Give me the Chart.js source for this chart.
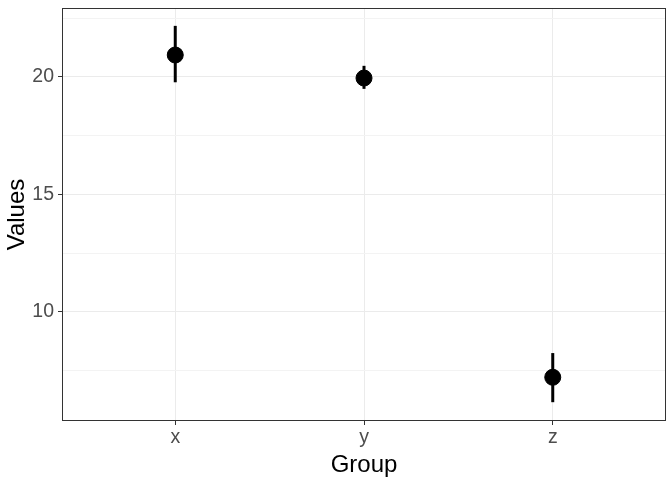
<!DOCTYPE html>
<html>
<head>
<meta charset="utf-8">
<script src="https://cdn.jsdelivr.net/npm/chart.js@4.4.1/dist/chart.umd.min.js"></script>
<style>
  html, body { margin: 0; padding: 0; background: #fff; }
  #wrap { width: 672px; height: 480px; }
</style>
</head>
<body>
<div id="wrap"><canvas id="chart" width="672" height="480"></canvas></div>
<script>
// data
const groups = ['x', 'y', 'z'];
const means = [20.93, 19.95, 7.22];
const lower = [19.77, 19.49, 6.16];
const upper = [22.17, 20.47, 8.25];

const yMin = 5.36, yMax = 22.93;

const errorSets = groups.map((g, i) => ({
  type: 'line',
  data: [{ x: i + 1, y: lower[i] }, { x: i + 1, y: upper[i] }],
  borderColor: '#000',
  borderWidth: 3,
  pointRadius: 0,
  borderCapStyle: 'butt',
  order: 2
}));

const pointSet = {
  type: 'scatter',
  data: groups.map((g, i) => ({ x: i + 1, y: means[i] })),
  backgroundColor: '#000',
  borderColor: '#000',
  pointRadius: 8,
  pointHoverRadius: 8,
  order: 1
};

// panel border all round, like theme_bw
const panelBorder = {
  id: 'panelBorder',
  afterDraw(chart) {
    const a = chart.chartArea, c = chart.ctx;
    c.save();
    c.strokeStyle = '#333333';
    c.lineWidth = 1;
    c.strokeRect(a.left + 0.5, a.top + 0.5, a.right - a.left - 1, a.bottom - a.top - 1);
    c.restore();
  }
};

const isMajor = v => Math.abs(v / 5 - Math.round(v / 5)) < 1e-6;
const font = 'Liberation Sans, Arial';

new Chart(document.getElementById('chart'), {
  type: 'scatter',
  data: { datasets: [...errorSets, pointSet] },
  options: {
    responsive: false,
    animation: false,
    layout: { autoPadding: false, padding: { top: 8, right: 6, left: 0, bottom: 0 } },
    plugins: { legend: { display: false }, tooltip: { enabled: false } },
    scales: {
      x: {
        type: 'linear',
        min: 0.4,
        max: 3.6,
        afterBuildTicks: s => { s.ticks = groups.map((g, i) => ({ value: i + 1 })); },
        afterFit: s => { s.height = 59; s.paddingLeft = 0; s.paddingRight = 0; },
        ticks: {
          callback: v => groups[v - 1],
          color: '#4D4D4D',
          font: { family: font, size: 19.5 },
          padding: 1,
          maxRotation: 0
        },
        grid: { color: '#EBEBEB', tickColor: '#333333', tickLength: 4, lineWidth: 1 },
        border: { display: false },
        title: {
          display: true,
          text: 'Group',
          color: '#000',
          font: { family: font, size: 24 },
          padding: { top: 0, bottom: 0 }
        }
      },
      y: {
        min: yMin,
        max: yMax,
        afterBuildTicks: s => {
          s.ticks = [7.5, 10, 12.5, 15, 17.5, 20, 22.5].map(v => ({ value: v }));
        },
        afterFit: s => { s.width = 62; s.paddingTop = 0; s.paddingBottom = 0; },
        ticks: {
          callback: v => isMajor(v) ? String(v) : '',
          color: '#4D4D4D',
          font: { family: font, size: 19.5 },
          padding: 4
        },
        grid: {
          color: ctx => isMajor(ctx.tick.value) ? '#EBEBEB' : '#F3F3F3',
          lineWidth: 1,
          tickColor: ctx => isMajor(ctx.tick.value) ? '#333333' : 'rgba(0,0,0,0)',
          tickLength: 4
        },
        border: { display: false },
        title: {
          display: true,
          text: 'Values',
          color: '#000',
          font: { family: font, size: 24 },
          padding: { top: 3, bottom: 0 }
        }
      }
    }
  },
  plugins: [panelBorder]
});
</script>
</body>
</html>
